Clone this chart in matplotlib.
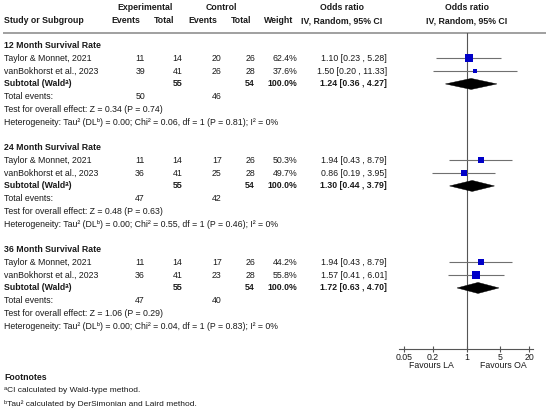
import matplotlib
matplotlib.use("Agg")
import matplotlib.pyplot as plt
from matplotlib.patches import Polygon

plt.rcParams['font.family'] = ['Liberation Sans', 'DejaVu Sans']

# ---------------- data ----------------
subgroups = ["12 Month Survival Rate", "24 Month Survival Rate", "36 Month Survival Rate"]
studies = ["Taylor & Monnet, 2021", "vanBokhorst et al., 2023"]
exp_events = [[11, 39], [11, 36], [11, 36]]
exp_total = [[14, 41], [14, 41], [14, 41]]
ctl_events = [[20, 26], [17, 25], [17, 23]]
ctl_total = [[26, 28], [26, 28], [26, 28]]
weights = [[62.4, 37.6], [50.3, 49.7], [44.2, 55.8]]
or_est = [[1.10, 1.50], [1.94, 0.86], [1.94, 1.57]]
or_lo = [[0.23, 0.20], [0.43, 0.19], [0.43, 0.41]]
or_hi = [[5.28, 11.33], [8.79, 3.95], [8.79, 6.01]]
sub_exp_total = [55, 55, 55]
sub_ctl_total = [54, 54, 54]
sub_or = [1.24, 1.30, 1.72]
sub_lo = [0.36, 0.44, 0.63]
sub_hi = [4.27, 3.79, 4.70]
tot_exp_events = [50, 47, 47]
tot_ctl_events = [46, 42, 40]
z_vals = ["0.34", "0.48", "1.06"]
p_vals = ["0.74", "0.63", "0.29"]
chi2 = ["0.06", "0.55", "0.04"]
p_het = ["0.81", "0.46", "0.83"]
axis_ticks = [0.05, 0.2, 1, 5, 20]
axis_tick_labels = ["0.05", "0.2", "1", "5", "20"]

# ---------------- layout ----------------
W, H = 550, 412
fig = plt.figure(figsize=(W / 100, H / 100), dpi=100)
ax0 = fig.add_axes([0, 0, 1, 1])
ax0.set_xlim(0, W)
ax0.set_ylim(H, 0)
ax0.axis('off')

FS = 6.3
TC = '#1a1a1a'
ROW0, STEP = 45.7, 12.75
def rowy(r):
    return ROW0 + r * STEP

def t(x, y, s, ha='left', bold=False, size=FS):
    ax0.text(x, y, s, ha=ha, va='center', fontsize=size, color=TC,
             fontweight='bold' if bold else 'normal')

# column anchors (right edges)
X_STUDY = 4
X_EE, X_ET, X_CE, X_CT, X_W, X_CI = 145, 182.5, 221.7, 255, 297.7, 387

# headers
t(144.8, 7.3, "Experimental", ha='center', bold=True)
t(221, 7.3, "Control", ha='center', bold=True)
t(342, 7.3, "Odds ratio", ha='center', bold=True)
t(466.7, 7.3, "Odds ratio", ha='center', bold=True)
t(X_STUDY, 20.7, "Study or Subgroup", bold=True)
t(126, 20.7, "Events", ha='center', bold=True)
t(164, 20.7, "Total", ha='center', bold=True)
t(202.5, 20.7, "Events", ha='center', bold=True)
t(240.7, 20.7, "Total", ha='center', bold=True)
t(278.7, 20.7, "Weight", ha='center', bold=True)
t(342, 20.7, "IV, Random, 95% CI", ha='center', bold=True)
t(466.7, 20.7, "IV, Random, 95% CI", ha='center', bold=True)
ax0.plot([3, 546], [32.7, 32.7], color='#a0a0a0', lw=1.4, solid_capstyle='butt')

# forest axes
PX_L, PX_R, PX_T, PX_B = 399, 533, 33, 348.7
axf = fig.add_axes([PX_L / W, 1 - PX_B / H, (PX_R - PX_L) / W, (PX_B - PX_T) / H])
axf.set_xscale('log')
axf.set_xlim(0.039, 24.0)
axf.set_ylim(PX_B, PX_T)
axf.patch.set_alpha(0)
for s in ['top', 'left', 'right']:
    axf.spines[s].set_visible(False)
axf.spines['bottom'].set_color('#555555')
axf.spines['bottom'].set_linewidth(0.8)
axf.set_yticks([])
axf.set_xticks(axis_ticks)
axf.set_xticklabels(axis_tick_labels)
axf.minorticks_off()
axf.tick_params(axis='x', direction='inout', length=4, width=0.8, color='#555555',
                labelsize=FS, labelcolor=TC, pad=1)
axf.axvline(1, color='#555555', lw=0.8)

LINE_C = '#707070'
SQ_C = '#0000c8'

for g in range(3):
    base = 8 * g
    t(X_STUDY, rowy(base), subgroups[g], bold=True)
    for i in range(2):
        y = rowy(base + 1 + i)
        t(X_STUDY, y, studies[i])
        t(X_EE, y, str(exp_events[g][i]), ha='right')
        t(X_ET, y, str(exp_total[g][i]), ha='right')
        t(X_CE, y, str(ctl_events[g][i]), ha='right')
        t(X_CT, y, str(ctl_total[g][i]), ha='right')
        t(X_W, y, f"{weights[g][i]:.1f}%", ha='right')
        t(X_CI, y, f"{or_est[g][i]:.2f} [{or_lo[g][i]:.2f} , {or_hi[g][i]:.2f}]", ha='right')
        axf.hlines(y, or_lo[g][i], or_hi[g][i], color=LINE_C, lw=0.8, zorder=2)
        side_px = weights[g][i] * 0.128
        axf.plot([or_est[g][i]], [y], marker='s', linestyle='none',
                 markersize=side_px * 0.72, color=SQ_C, markeredgewidth=0, zorder=3)
    y = rowy(base + 3)
    t(X_STUDY, y, "Subtotal (Wald\u1d43)", bold=True)
    t(X_ET, y, str(sub_exp_total[g]), ha='right', bold=True)
    t(X_CT, y, str(sub_ctl_total[g]), ha='right', bold=True)
    t(X_W, y, "100.0%", ha='right', bold=True)
    t(X_CI, y, f"{sub_or[g]:.2f} [{sub_lo[g]:.2f} , {sub_hi[g]:.2f}]", ha='right', bold=True)
    hh = 5.5
    axf.add_patch(Polygon([(sub_lo[g], y), (sub_or[g], y - hh), (sub_hi[g], y), (sub_or[g], y + hh)],
                          closed=True, facecolor='black', edgecolor='black', lw=0.3, zorder=3))
    y = rowy(base + 4)
    t(X_STUDY, y, "Total events:")
    t(X_EE, y, str(tot_exp_events[g]), ha='right')
    t(X_CE, y, str(tot_ctl_events[g]), ha='right')
    t(X_STUDY, rowy(base + 5), f"Test for overall effect: Z = {z_vals[g]} (P = {p_vals[g]})")
    t(X_STUDY, rowy(base + 6),
      f"Heterogeneity: Tau\u00b2 (DL\u1d47) = 0.00; Chi\u00b2 = {chi2[g]}, df = 1 (P = {p_het[g]}); I\u00b2 = 0%")

# favours labels
t(431, 365.3, "Favours LA", ha='center')
t(503, 365.3, "Favours OA", ha='center')

# footnotes
t(X_STUDY, 377.7, "Footnotes", bold=True)
t(X_STUDY, 391, "\u1d43CI calculated by Wald-type method.", size=FS - 0.3)
t(X_STUDY, 404, "\u1d47Tau\u00b2 calculated by DerSimonian and Laird method.", size=FS - 0.3)

fig.savefig("out.png", dpi=100)
